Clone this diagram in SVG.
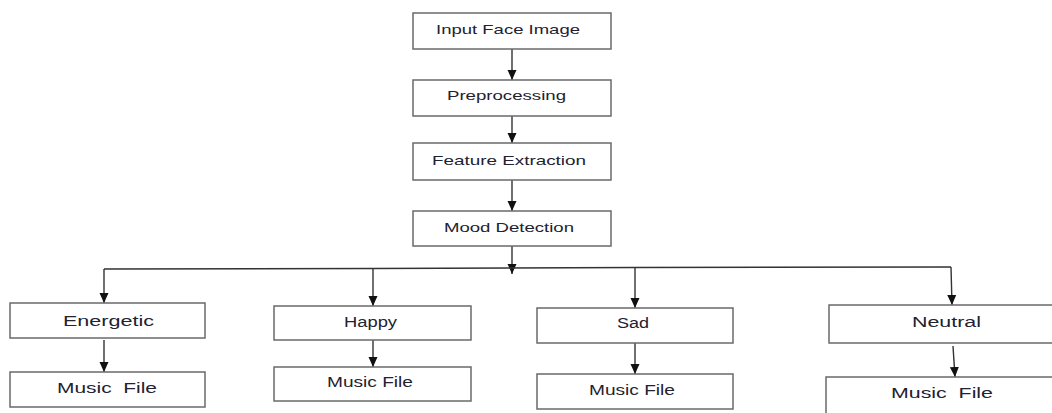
<svg xmlns="http://www.w3.org/2000/svg" width="1052" height="413" viewBox="0 0 1052 413">
  <style>
    .box { fill: #ffffff; stroke: #6a6a6a; stroke-width: 1.5; }
    .lbl { font-family: "Liberation Sans", Arial, sans-serif; fill: #222230; }
    .top { font-size: 13px; }
    .bot { font-size: 14px; }
    .wire { fill: none; stroke: #333333; stroke-width: 1.4; }
  </style>
  <defs>
    <marker id="ah" markerUnits="userSpaceOnUse" markerWidth="10" markerHeight="10" viewBox="0 0 10 10" refX="10" refY="5" orient="auto">
      <path d="M0,0.5 L10,5 L0,9.5 Z" fill="#111111"/>
    </marker>
  </defs>
  <rect width="1052" height="413" fill="#ffffff"/>

  <g id="connectors">
    <line class="wire" x1="512" y1="49" x2="512" y2="80" marker-end="url(#ah)"/>
    <line class="wire" x1="512" y1="116" x2="512" y2="143" marker-end="url(#ah)"/>
    <line class="wire" x1="512" y1="180" x2="512" y2="211" marker-end="url(#ah)"/>
    <line class="wire" x1="512" y1="246" x2="512" y2="274" marker-end="url(#ah)"/>
    <polyline class="wire" points="104,269 373,268.5 635,267.5 951,267"/>
    <line class="wire" x1="104" y1="269" x2="104" y2="303" marker-end="url(#ah)"/>
    <line class="wire" x1="373" y1="268.5" x2="373" y2="306" marker-end="url(#ah)"/>
    <line class="wire" x1="635" y1="267.5" x2="635" y2="308" marker-end="url(#ah)"/>
    <line class="wire" x1="951" y1="267" x2="952" y2="305" marker-end="url(#ah)"/>
    <line class="wire" x1="104" y1="340" x2="104" y2="372" marker-end="url(#ah)"/>
    <line class="wire" x1="373" y1="340" x2="373" y2="367" marker-end="url(#ah)"/>
    <line class="wire" x1="635" y1="343" x2="635" y2="374" marker-end="url(#ah)"/>
    <line class="wire" x1="953" y1="346" x2="955" y2="377" marker-end="url(#ah)"/>
  </g>

  <g id="input">
    <rect class="box" x="413" y="13" width="198" height="36"/>
    <text class="lbl top" x="436" y="34" textLength="144" lengthAdjust="spacingAndGlyphs">Input Face Image</text>
  </g>
  <g id="preprocessing">
    <rect class="box" x="413" y="80" width="198" height="36"/>
    <text class="lbl top" x="447" y="100" textLength="119" lengthAdjust="spacingAndGlyphs">Preprocessing</text>
  </g>
  <g id="feature">
    <rect class="box" x="413" y="143" width="198" height="37"/>
    <text class="lbl top" x="432" y="165" textLength="154" lengthAdjust="spacingAndGlyphs">Feature Extraction</text>
  </g>
  <g id="mood">
    <rect class="box" x="413" y="211" width="198" height="35"/>
    <text class="lbl top" x="444" y="232" textLength="130" lengthAdjust="spacingAndGlyphs">Mood Detection</text>
  </g>

  <g id="energetic">
    <rect class="box" x="10" y="303" width="195" height="35"/>
    <text class="lbl bot" x="63" y="326" textLength="91" lengthAdjust="spacingAndGlyphs">Energetic</text>
  </g>
  <g id="energetic-music">
    <rect class="box" x="10" y="372" width="195" height="35"/>
    <text class="lbl bot" x="57" y="393" textLength="100" lengthAdjust="spacingAndGlyphs" xml:space="preserve">Music  File</text>
  </g>

  <g id="happy">
    <rect class="box" x="274" y="306" width="197" height="34"/>
    <text class="lbl bot" x="344" y="327" textLength="53" lengthAdjust="spacingAndGlyphs">Happy</text>
  </g>
  <g id="happy-music">
    <rect class="box" x="274" y="367" width="197" height="34"/>
    <text class="lbl bot" x="327" y="387" textLength="86" lengthAdjust="spacingAndGlyphs">Music File</text>
  </g>

  <g id="sad">
    <rect class="box" x="537" y="308" width="196" height="35"/>
    <text class="lbl bot" x="617" y="328" textLength="32" lengthAdjust="spacingAndGlyphs">Sad</text>
  </g>
  <g id="sad-music">
    <rect class="box" x="537" y="374" width="196" height="35"/>
    <text class="lbl bot" x="589" y="395" textLength="86" lengthAdjust="spacingAndGlyphs">Music File</text>
  </g>

  <g id="neutral">
    <rect class="box" x="829" y="305" width="240" height="38"/>
    <text class="lbl bot" x="912" y="327" textLength="69" lengthAdjust="spacingAndGlyphs">Neutral</text>
  </g>
  <g id="neutral-music">
    <rect class="box" x="826" y="377" width="240" height="45"/>
    <text class="lbl bot" x="891" y="398" textLength="102" lengthAdjust="spacingAndGlyphs" xml:space="preserve">Music  File</text>
  </g>
</svg>
